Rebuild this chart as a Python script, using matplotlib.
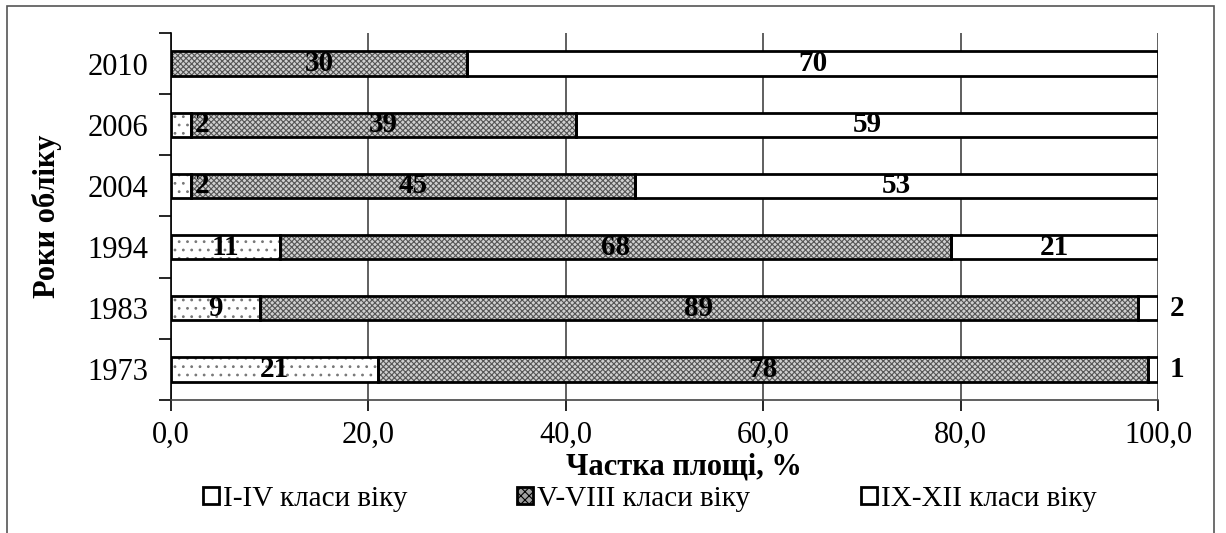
import numpy as np
import matplotlib
matplotlib.use('Agg')
import matplotlib.pyplot as plt
from matplotlib.patches import Rectangle

plt.rcParams['font.family'] = ['Liberation Serif', 'DejaVu Serif']
plt.rcParams['hatch.linewidth'] = 0.8

# Data (share of area, %)
years = ['1973', '1983', '1994', '2004', '2006', '2010']
class_1_4 = [21, 9, 11, 2, 2, 0]
class_5_8 = [78, 89, 68, 45, 39, 30]
class_9_12 = [1, 2, 21, 53, 59, 70]
series_names = ['I-IV класи віку', 'V-VIII класи віку', 'IX-XII класи віку']

fig = plt.figure(figsize=(12.26, 5.33), dpi=100)
ax = fig.add_axes([171 / 1226, 1 - 400 / 533, (1158 - 171) / 1226, (400 - 33) / 533])

# outer frame of the chart area
fig.patches.append(Rectangle((7 / 1226, -0.1), (1214 - 7) / 1226, 1.1 - 6 / 533,
                             transform=fig.transFigure, fill=False,
                             edgecolor='#555555', linewidth=1.2))

y = np.arange(len(years))
h = 0.4
a = np.array(class_1_4)
b = np.array(class_5_8)
c = np.array(class_9_12)

# fills with grey hatch, then black outlines on top
ax.barh(y, a, height=h, color='white', edgecolor='#777777', linewidth=0,
        hatch='..', zorder=3)
ax.barh(y, b, left=a, height=h, color='#d0d0d0', edgecolor='#555555', linewidth=0,
        hatch='xxxxxx', zorder=3)
ax.barh(y, c, left=a + b, height=h, color='white', linewidth=0, zorder=3)
ax.barh(y, a, height=h, fill=False, edgecolor='black', linewidth=2, zorder=4)
ax.barh(y, b, left=a, height=h, fill=False, edgecolor='black', linewidth=2, zorder=4)
ax.barh(y, c, left=a + b, height=h, fill=False, edgecolor='black', linewidth=2, zorder=4)

lab = dict(fontsize=21, fontweight='bold', va='center', zorder=5)
for i in range(len(years)):
    if a[i] > 5:
        ax.text(a[i] / 2, y[i], str(a[i]), ha='center', **lab)
    elif a[i] > 0:
        ax.text(a[i] + 0.4, y[i], str(a[i]), ha='left', **lab)
    ax.text(a[i] + b[i] / 2, y[i], str(b[i]), ha='center', **lab)
    if c[i] > 5:
        ax.text(a[i] + b[i] + c[i] / 2, y[i], str(c[i]), ha='center', **lab)
    else:
        ax.text(101.2, y[i], str(c[i]), ha='left', **lab)

ax.set_xlim(0, 100)
ax.set_ylim(-0.5, len(years) - 0.5)
ax.set_xticks(np.arange(0, 101, 20))
ax.set_xticklabels([f'{v:.1f}'.replace('.', ',') for v in range(0, 101, 20)])
ax.set_yticks(y)
ax.set_yticklabels(years)
ax.set_yticks(np.arange(-0.5, len(years), 1), minor=True)
ax.tick_params(axis='y', which='major', length=0, labelsize=22, pad=16.5)
ax.tick_params(axis='y', which='minor', length=9, width=1.2, direction='out')
ax.tick_params(axis='x', length=8, width=1.2, labelsize=22, pad=7)

ax.grid(axis='x', color='#444444', linewidth=1.2, zorder=0)
for s in ['top', 'right']:
    ax.spines[s].set_visible(False)
ax.spines['left'].set_linewidth(1.2)
ax.spines['bottom'].set_linewidth(1.2)
ax.spines['bottom'].set_color('#444444')

ax.set_xlabel('Частка площі, %', fontsize=22, fontweight='bold')
ax.xaxis.set_label_coords(0.52, -0.142)
ax.set_ylabel('Роки обліку', fontsize=22, fontweight='bold')
ax.yaxis.set_label_coords(-0.11, 0.5)

# legend: one entry per position, as in the original
handles = [
    Rectangle((0, 0), 1, 1, facecolor='white', edgecolor='black', linewidth=2),
    Rectangle((0, 0), 1, 1, facecolor='#a0a0a0', edgecolor='black', linewidth=2,
              hatch='xxxx'),
    Rectangle((0, 0), 1, 1, facecolor='white', edgecolor='black', linewidth=2),
]
for hd, name, xpos in zip(handles, series_names, [203, 517, 861]):
    fig.legend([hd], [name], loc='center left',
               bbox_to_anchor=(xpos / 1226, 1 - 499 / 533),
               frameon=False, fontsize=21, handlelength=0.55, handleheight=0.55,
               handletextpad=0.15, borderaxespad=0, borderpad=0)

fig.savefig('out.png', dpi=100)
